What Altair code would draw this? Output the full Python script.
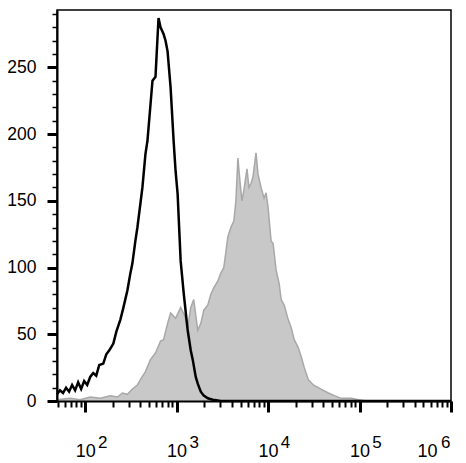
import altair as alt
import pandas as pd

# Black (control) histogram: log10 fluorescence, event count
black_log = [1.692, 1.725, 1.758, 1.791, 1.824, 1.857, 1.890, 1.923, 1.956, 1.989,
             2.022, 2.055, 2.088, 2.121, 2.154, 2.198, 2.231, 2.264, 2.308, 2.341,
             2.385, 2.418, 2.462, 2.495, 2.516, 2.549, 2.571, 2.604, 2.626, 2.659,
             2.681, 2.714, 2.736, 2.769, 2.802, 2.824, 2.857, 2.879, 2.901, 2.934,
             2.967, 2.989, 3.011, 3.044, 3.077, 3.121, 3.154, 3.176, 3.209, 3.231,
             3.264, 3.297, 3.341, 3.396, 3.484, 6.0]
black_count = [5, 8, 6, 10, 7, 12, 8, 14, 9, 15,
               12, 18, 21, 19, 27, 28, 35, 38, 43, 52,
               61, 70, 83, 96, 103, 120, 130, 148, 160, 185,
               195, 222, 240, 243, 287, 280, 275, 270, 262, 235,
               195, 172, 155, 105, 81, 53, 38, 31, 18, 13,
               7, 4, 2, 1, 0, 0]

# Gray (stained) histogram
gray_log = [1.692, 1.835, 1.945, 2.055, 2.165, 2.275, 2.352, 2.407, 2.462, 2.516,
            2.571, 2.604, 2.659, 2.714, 2.769, 2.824, 2.857, 2.901, 2.934, 2.989,
            3.044, 3.088, 3.121, 3.154, 3.187, 3.231, 3.264, 3.297, 3.341, 3.374,
            3.407, 3.451, 3.484, 3.516, 3.560, 3.593, 3.626, 3.648, 3.670, 3.692,
            3.714, 3.736, 3.769, 3.791, 3.813, 3.835, 3.868, 3.890, 3.923, 3.956,
            3.978, 4.000, 4.033, 4.055, 4.088, 4.121, 4.143, 4.176, 4.220, 4.253,
            4.286, 4.330, 4.363, 4.396, 4.440, 4.495, 4.549, 4.604, 4.659, 4.725,
            4.802, 4.912, 4.989, 5.077, 6.0]
gray_count = [1, 2, 1, 3, 2, 4, 3, 6, 5, 9,
              12, 16, 22, 31, 36, 45, 46, 58, 66, 62,
              70, 64, 55, 70, 76, 53, 58, 68, 72, 80,
              85, 90, 96, 100, 123, 130, 135, 150, 182, 165,
              150, 158, 174, 160, 163, 168, 186, 170, 160, 152,
              156, 145, 120, 118, 98, 88, 76, 72, 61, 55,
              46, 40, 33, 25, 16, 12, 10, 8, 6, 4,
              2, 2, 1, 0, 0]

x_major = [100, 1000, 10000, 100000, 1000000]
x_minor = [k * 10 ** d for d in range(1, 6) for k in range(2, 10) if k * 10 ** d >= 50]
y_major = [0, 50, 100, 150, 200, 250]
y_minor = list(range(0, 300, 10))

black = pd.DataFrame({"x": [10 ** v for v in black_log], "count": black_count})
gray = pd.DataFrame({"x": [10 ** v for v in gray_log], "count": gray_count})

FONT = "Liberation Sans"
xscale = alt.Scale(type="log", domain=[10 ** 1.692, 1e6], nice=False)
yscale = alt.Scale(domain=[0, 293], nice=False, zero=False)

ax_major = alt.Axis(orient="bottom", values=x_major, labelExpr="'10'", tickSize=11, tickWidth=3,
                    tickColor="black", domain=True, domainColor="black", domainWidth=2,
                    labelFont=FONT, labelFontSize=18, labelColor="black", labelPadding=30,
                    labelFlush=True, labelFlushOffset=-14, labelOverlap=False, labelBound=False,
                    grid=False, zindex=1)
ax_minor = alt.Axis(orient="bottom", values=x_minor, labels=False, tickSize=6, tickWidth=2,
                    tickColor="black", domain=False, grid=False, zindex=1)
ax_exp = alt.Axis(orient="bottom", values=x_major, labelExpr="'' + round(log(datum.value) / LN10)",
                  ticks=False, domain=False, grid=False, labelFont=FONT, labelFontSize=17,
                  labelColor="black", labelPadding=33, tickOffset=17, labelFlush=True,
                  labelFlushOffset=-18, labelOverlap=False, labelBound=False)

ay_major = alt.Axis(orient="left", values=y_major, tickSize=10, tickWidth=3, tickColor="black",
                    domain=True, domainColor="black", domainWidth=2, labelFont=FONT,
                    labelFontSize=17.5, labelColor="black", labelPadding=11, grid=False, zindex=1)
ay_minor = alt.Axis(orient="left", values=y_minor, labels=False, tickSize=5, tickWidth=1.5,
                    tickColor="black", domain=False, grid=False, zindex=1)

area = alt.Chart(gray).mark_area(color="#c8c8c8").encode(
    x=alt.X("x:Q", scale=xscale, axis=ax_major, title=None),
    y=alt.Y("count:Q", scale=yscale, axis=ay_major, title=None),
)
gline = alt.Chart(gray).mark_line(color="#a8a8a8", strokeWidth=1.5).encode(
    x=alt.X("x:Q", scale=xscale, axis=ax_minor, title=None),
    y=alt.Y("count:Q", scale=yscale, axis=ay_minor, title=None),
)
bline = alt.Chart(black).mark_line(color="black", strokeWidth=2.5).encode(
    x=alt.X("x:Q", scale=xscale, axis=ax_exp, title=None),
    y=alt.Y("count:Q", scale=yscale, axis=None, title=None),
)

chart = alt.layer(area, gline, bline).resolve_axis(x="independent", y="independent").properties(
    width=394, height=391,
    padding={"left": 49, "top": 2, "right": 7, "bottom": 62},
    autosize=alt.AutoSizeParams(type="none"),
    background="white",
).configure_view(stroke="black", strokeWidth=1.5)

chart.save("out.html", embed_options={"renderer": "svg", "actions": False})
